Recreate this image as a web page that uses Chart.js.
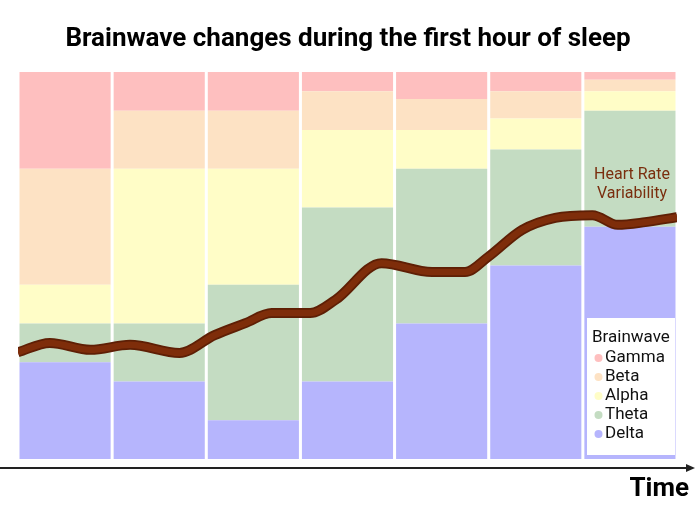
<!DOCTYPE html>
<html>
<head>
<meta charset="utf-8">
<script src="https://cdn.jsdelivr.net/npm/chart.js@4.4.0/dist/chart.umd.min.js"></script>
<style>
  html, body { margin: 0; padding: 0; background: #fff; }
  #wrap { width: 695px; height: 523px; }
</style>
</head>
<body>
<div id="wrap"><canvas id="sleepChart" width="695" height="523"></canvas></div>
<script>
// seven time slices of the first hour, share of each brainwave (%)
const slices = ["1", "2", "3", "4", "5", "6", "7"];
const delta = [25, 20, 10, 20, 35, 50, 60];
const theta = [10, 15, 35, 45, 40, 30, 30];
const alpha = [10, 40, 30, 20, 10, 8, 5];
const beta  = [30, 15, 15, 10, 8, 7, 3];
const gamma = [25, 10, 10, 5, 7, 5, 2];

// heart rate variability, minutes vs relative level (0-100)
const hrvMinutes = [0, 2.9, 6.6, 10.2, 14.7, 17.9, 20.7, 23.1, 26.6, 28.9, 33.1, 37.7, 40.7, 42.8, 45.9, 48.9, 52.3, 54.6, 57.1, 60];
const hrvLevel   = [27.6, 30.0, 28.2, 29.5, 27.4, 32.0, 35.1, 37.7, 37.7, 41.1, 50.6, 48.3, 48.3, 52.2, 59.2, 62.3, 63.0, 60.5, 61.2, 62.5];

const colores = {
  Gamma: "#febfbf",
  Beta: "#fde2c4",
  Alpha: "#fffdc7",
  Theta: "#c4dcc2",
  Delta: "#b6b5fd"
};

function barra(label, data) {
  return {
    type: "bar",
    label: label,
    data: data,
    stack: "ondas",
    grouped: false,
    backgroundColor: colores[label],
    borderWidth: 0,
    barPercentage: 0.968,
    categoryPercentage: 1,
    xAxisID: "x",
    yAxisID: "y",
    order: 2
  };
}

const hrvPoints = hrvMinutes.map((m, i) => ({ x: m, y: hrvLevel[i] }));

// titulo, flecha del tiempo, etiqueta HRV y leyenda
const extras = {
  id: "extras",
  afterDraw(chart) {
    const ctx = chart.ctx;
    ctx.save();

    ctx.fillStyle = "#000";
    ctx.font = "bold 26px Roboto";
    ctx.textAlign = "center";
    ctx.textBaseline = "middle";
    ctx.fillText("Brainwave changes during the first hour of sleep", 348, 39);

    // eje del tiempo
    ctx.strokeStyle = "#222";
    ctx.lineWidth = 2;
    ctx.beginPath();
    ctx.moveTo(0, 468);
    ctx.lineTo(688, 468);
    ctx.stroke();
    ctx.fillStyle = "#222";
    ctx.beginPath();
    ctx.moveTo(695, 468);
    ctx.lineTo(686, 464);
    ctx.lineTo(686, 472);
    ctx.closePath();
    ctx.fill();

    ctx.fillStyle = "#000";
    ctx.font = "bold 26px Roboto";
    ctx.textAlign = "right";
    ctx.fillText("Time", 689, 489);

    // etiqueta de la linea
    ctx.fillStyle = "#7a2e0e";
    ctx.font = "16px Roboto";
    ctx.textAlign = "center";
    ctx.fillText("Heart Rate", 632, 175);
    ctx.fillText("Variability", 632, 194);

    // leyenda
    ctx.fillStyle = "#fff";
    ctx.fillRect(587, 318, 88, 137);
    ctx.fillStyle = "#111";
    ctx.font = "17px Roboto";
    ctx.textAlign = "left";
    ctx.fillText("Brainwave", 592, 338);
    const items = ["Gamma", "Beta", "Alpha", "Theta", "Delta"];
    items.forEach((nombre, i) => {
      const y = 358 + i * 19;
      ctx.fillStyle = colores[nombre];
      ctx.beginPath();
      ctx.arc(598.5, y, 4, 0, Math.PI * 2);
      ctx.fill();
      ctx.fillStyle = "#111";
      ctx.fillText(nombre, 605, y);
    });

    ctx.restore();
  }
};

const ctx = document.getElementById("sleepChart").getContext("2d");
new Chart(ctx, {
  type: "bar",
  data: {
    labels: slices,
    datasets: [
      barra("Delta", delta),
      barra("Theta", theta),
      barra("Alpha", alpha),
      barra("Beta", beta),
      barra("Gamma", gamma),
      {
        type: "line",
        label: "Heart Rate Variability",
        data: hrvPoints,
        borderColor: "#5e1f05",
        borderWidth: 10,
        pointRadius: 0,
        tension: 0.4,
        cubicInterpolationMode: "monotone",
        xAxisID: "xHrv",
        yAxisID: "yHrv",
        order: 1
      },
      {
        type: "line",
        label: "HRV core",
        data: hrvPoints,
        borderColor: "#7e2d0a",
        borderWidth: 6.5,
        pointRadius: 0,
        tension: 0.4,
        cubicInterpolationMode: "monotone",
        xAxisID: "xHrv",
        yAxisID: "yHrv",
        order: 0
      }
    ]
  },
  options: {
    responsive: false,
    animation: false,
    layout: { padding: { left: 18, right: 18, top: 72, bottom: 64 } },
    plugins: {
      legend: { display: false },
      title: { display: false },
      tooltip: { enabled: false }
    },
    scales: {
      x: { type: "category", stacked: true, display: false, offset: true },
      y: { stacked: true, min: 0, max: 100, display: false },
      xHrv: { type: "linear", min: 0, max: 60, display: false, offset: false, grid: { offset: false } },
      yHrv: { type: "linear", min: 0, max: 100, display: false }
    }
  },
  plugins: [extras]
});
</script>
</body>
</html>
